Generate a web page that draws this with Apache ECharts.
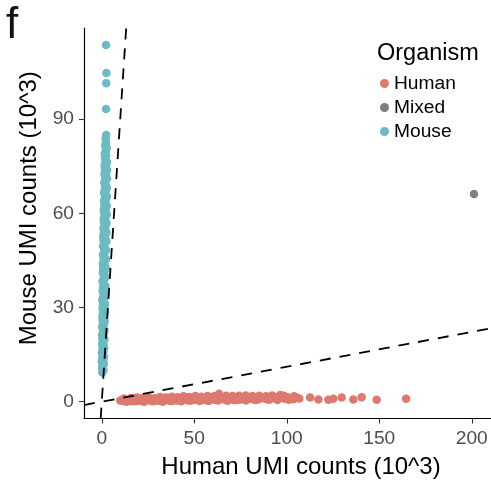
<!DOCTYPE html>
<html>
<head>
<meta charset="utf-8">
<script src="https://cdn.jsdelivr.net/npm/echarts@6/dist/echarts.min.js"></script>
<style>html,body{margin:0;padding:0;background:#fff;}#c{width:491px;height:484px;}</style>
</head>
<body>
<div id="c"></div>
<script>
// ---- data (values in 10^3 UMI counts) ----
const categories = ['Human', 'Mixed', 'Mouse'];
const xTicks = [0, 50, 100, 150, 200];
const yTicks = [0, 30, 60, 90];

const humanPoints = [
  [10.0,0.4],[11.5,0.2],[12.8,0.6],[14.0,0.3],[15.2,0.7],[16.3,0.1],[17.5,0.5],[18.4,0.9],[19.6,0.3],[20.7,0.6],
  [21.5,0.2],[22.6,0.8],[23.8,0.4],[24.7,1.0],[25.9,0.5],[26.8,0.2],[27.9,0.7],[29.0,0.4],[30.1,0.9],[31.0,0.3],
  [32.2,0.6],[33.1,1.1],[34.3,0.5],[35.2,0.8],[36.4,0.3],[37.3,0.9],[38.5,0.6],[39.4,1.2],[40.6,0.4],[41.5,0.8],
  [42.7,0.5],[43.6,1.0],[44.8,0.7],[45.7,1.3],[46.9,0.4],[47.8,0.9],[49.0,0.6],[50.1,1.1],[51.2,0.5],[52.3,0.8],
  [53.4,1.2],[54.5,0.6],[55.6,0.9],[56.7,0.4],[57.8,1.0],[58.9,0.7],[60.0,1.3],[61.1,0.6],[62.3,1.8],[63.4,2.5],
  [64.5,0.9],[65.6,1.4],[66.8,0.6],[67.9,1.1],[69.0,0.8],[70.2,1.2],[71.3,0.5],[72.5,1.0],[73.7,1.4],[74.9,0.7],
  [76.0,1.1],[77.2,0.6],[78.4,1.3],[79.6,0.9],[80.8,1.5],[82.0,0.8],[83.1,1.2],[84.5,0.7],[85.8,1.1],[87.0,1.4],
  [88.3,0.9],[89.5,1.2],[91.0,0.8],[92.4,1.3],[93.8,1.0],[95.1,1.6],[96.5,2.1],[97.8,1.2],[99.0,0.9],[100.5,1.4],
  [102.0,1.1],[103.6,0.8],[105.2,1.3],[106.8,1.0],[112.6,1.3],[117.1,0.7],[122.5,0.6],[125.2,0.9],[129.7,1.3],[136.0,0.7],
  [140.5,1.4],[148.6,0.6],[164.5,0.9],
  [12.0,1.0],[15.8,1.2],[19.0,1.3],[22.0,1.2],[25.3,1.4],[28.5,1.1],[31.6,1.5],[34.8,1.3],[37.9,1.6],[41.0,1.4],
  [44.2,1.7],[47.3,1.5],[50.6,1.8],[53.9,1.6],[57.2,1.8],[60.6,1.7],[64.0,1.8],[67.3,1.9],[70.7,1.8],[74.2,1.9],
  [77.8,2.0],[81.4,1.8],[85.1,1.9],[88.8,1.7],[92.0,2.0],[96.0,1.6],[98.5,1.9],[104.0,1.7],
  [13.5,0.0],[18.0,0.1],[23.0,0.0],[28.0,0.1],[33.0,0.0],[38.0,0.2],[43.0,0.1],[48.0,0.3],[53.0,0.2],[58.0,0.3],
  [63.0,0.4],[68.0,0.3],[73.0,0.5],[78.0,0.4],[83.0,0.5],[90.0,0.6],[95.0,0.5],[101.0,0.6]
];

const mixedPoints = [[201.2, 66.1]];

const mousePoints = [
  [0.3,9.3],[0.5,10.2],[0.2,11.0],[0.6,11.8],[0.4,12.5],[0.8,13.1],[0.3,13.9],[0.7,14.6],[0.5,15.2],[0.9,15.9],
  [0.4,16.7],[0.6,17.3],[1.0,18.0],[0.5,18.8],[0.8,19.4],[0.3,20.1],[0.9,20.9],[0.6,21.6],[1.1,22.2],[0.7,23.0],
  [0.4,23.7],[1.0,24.3],[0.8,25.1],[0.5,25.8],[1.2,26.4],[0.9,27.2],[0.6,27.9],[1.1,28.6],[0.8,29.3],[1.3,30.0],
  [0.7,30.8],[1.0,31.5],[0.5,32.1],[1.2,32.9],[0.9,33.6],[1.4,34.2],[0.7,35.0],[1.1,35.7],[0.8,36.4],[1.3,37.1],
  [1.0,37.9],[0.6,38.6],[1.5,39.2],[1.2,40.0],[0.9,40.7],[1.4,41.4],[1.1,42.1],[0.7,42.9],[1.6,43.5],[1.3,44.3],
  [1.0,45.0],[1.5,45.7],[0.8,46.4],[1.2,47.2],[1.7,47.9],[1.4,48.6],[1.0,49.3],[1.6,50.1],[1.3,50.8],[0.9,51.5],
  [1.8,52.2],[1.5,53.0],[1.1,53.7],[1.7,54.4],[1.3,55.2],[2.0,55.9],[1.6,56.6],[1.2,57.3],[1.9,58.1],[1.5,58.8],
  [1.8,59.5],[1.3,60.3],[2.1,61.0],[1.7,61.8],[1.4,62.5],[2.0,63.2],[1.6,64.0],[2.2,64.7],[1.8,65.5],[1.5,66.3],
  [2.1,67.0],[1.7,67.8],[2.3,68.6],[1.9,69.3],[1.6,70.1],[2.2,70.9],[1.8,71.7],[2.4,72.5],[2.0,73.3],[1.7,74.1],
  [2.3,74.9],[1.9,75.8],[2.1,76.7],[1.8,77.5],[2.4,78.4],[2.0,79.3],[2.2,80.2],[1.9,81.4],[2.3,82.5],[2.1,83.8],
  [2.4,84.9],[2.3,93.2],[2.4,101.4],[2.5,104.7],[2.3,113.6],
  [0.9,10.0],[1.1,12.0],[0.0,12.9],[1.2,14.2],[0.1,15.6],[1.3,17.0],[0.2,18.4],[1.4,19.8],[0.2,21.2],[1.5,22.7],
  [0.3,24.0],[1.6,25.5],[0.3,26.9],[1.7,28.3],[0.4,29.7],[1.8,31.1],[0.4,32.5],[1.9,34.0],[0.5,35.4],[2.0,36.8],
  [0.5,38.2],[2.1,39.7],[0.6,41.1],[2.2,42.5],[0.6,43.9],[2.3,45.4],[0.7,46.8],[2.4,48.2],[0.7,49.6],[2.5,51.1],
  [0.8,52.5],[2.6,53.9],[0.9,55.3],[2.6,56.8],[1.0,58.2],[2.7,59.6],[1.1,61.0],[2.7,62.4],[1.2,63.9],[2.8,65.3],
  [1.3,66.7],[2.8,68.1],[1.4,69.6],[2.9,71.0],[1.5,72.4],[2.9,73.8],[1.5,75.2],[2.8,76.3],[1.6,78.9],[2.7,80.8],
  [2.0,82.0]
];

// reference lines through the origin (slopes 9 and 1/9), endpoints at the panel limits
const steepLine = [[-0.6, -5.4], [13.2, 119.0]];
const shallowLine = [[-9.6, -1.07], [210.4, 23.38]];

const colors = { Human: '#dc7a70', Mixed: '#7f7f7f', Mouse: '#6cbbc2' };
const FONT = '"Liberation Sans", Arial, Helvetica, sans-serif';

const chart = echarts.init(document.getElementById('c'), null, { renderer: 'canvas' });

const scatter = (name, data) => ({
  name, type: 'scatter', data, symbol: 'circle', symbolSize: 8.5,
  itemStyle: { color: colors[name], opacity: 1 }, z: 3
});
const refLine = (data) => ({
  type: 'line', data, symbol: 'none', silent: true, z: 4, clip: true,
  lineStyle: { color: '#000', width: 1.8, type: [11, 9] }
});

chart.setOption({
  animation: false,
  backgroundColor: '#fff',
  textStyle: { fontFamily: FONT },
  grid: { left: 84, top: 28, right: 0, bottom: 65.5, containLabel: false, outerBoundsMode: 'none' },
  title: {
    text: 'Organism', left: 372, top: 37,
    textStyle: { fontSize: 23.5, fontWeight: 'normal', color: '#000', fontFamily: FONT }
  },
  graphic: [{
    type: 'text', left: 6, top: 4,
    style: { text: 'f', fontSize: 44, fill: '#111', fontFamily: FONT }
  }],
  legend: {
    data: categories, orient: 'vertical', left: 375, top: 69,
    icon: 'circle', itemWidth: 9, itemHeight: 9, itemGap: 5,
    textStyle: { fontSize: 19.2, color: '#000', fontFamily: FONT, padding: [0, 0, 0, 0] }
  },
  xAxis: {
    type: 'value', min: -9.6, max: 210.4,
    name: 'Human UMI counts (10^3)', nameLocation: 'middle', nameGap: 37,
    nameTextStyle: { fontSize: 24, color: '#000', fontFamily: FONT, padding: [0, 0, 0, 27] },
    axisLine: { show: true, onZero: false, lineStyle: { color: '#000', width: 1.2 } },
    axisTick: { show: true, inside: false, length: 5, customValues: xTicks, lineStyle: { color: '#333', width: 1.1 } },
    axisLabel: { customValues: xTicks, fontSize: 19.2, color: '#4d4d4d', margin: 11, fontFamily: FONT },
    splitLine: { show: false }
  },
  yAxis: {
    type: 'value', min: -5.36, max: 119.0,
    name: 'Mouse UMI counts (10^3)', nameLocation: 'middle', nameGap: 36,
    nameTextStyle: { fontSize: 24, color: '#000', fontFamily: FONT, padding: [0, 0, 0, 30] },
    axisLine: { show: true, onZero: false, lineStyle: { color: '#000', width: 1.2 } },
    axisTick: { show: true, inside: false, length: 5, customValues: yTicks, lineStyle: { color: '#333', width: 1.1 } },
    axisLabel: { customValues: yTicks, fontSize: 19.2, color: '#4d4d4d', margin: 10, fontFamily: FONT },
    splitLine: { show: false }
  },
  series: [
    scatter('Human', humanPoints),
    scatter('Mixed', mixedPoints),
    scatter('Mouse', mousePoints),
    refLine(steepLine),
    refLine(shallowLine)
  ]
});
</script>
</body>
</html>
